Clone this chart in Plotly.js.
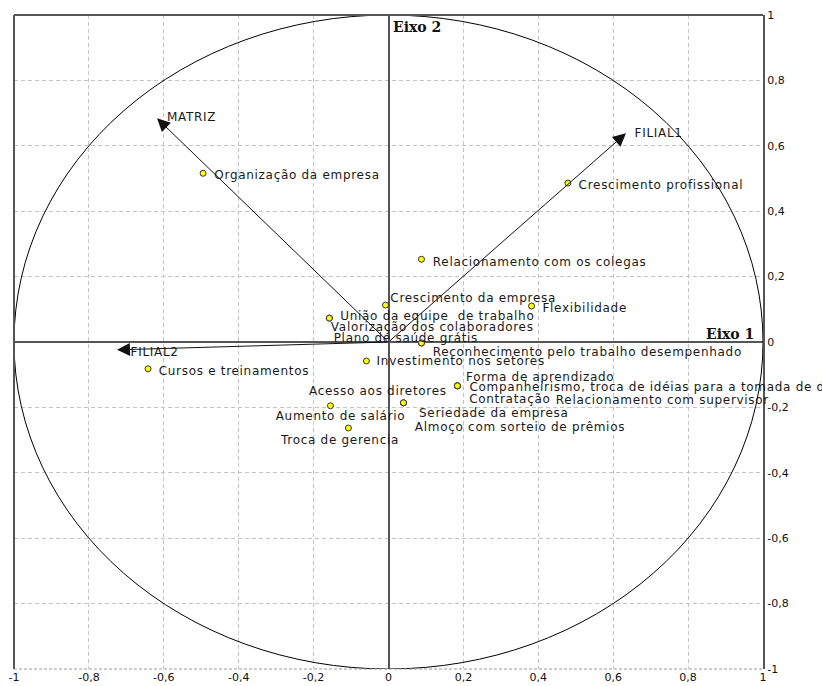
<!DOCTYPE html>
<html>
<head>
<meta charset="utf-8">
<script src="https://cdn.plot.ly/plotly-3.0.1.min.js"></script>
<style>
html,body{margin:0;padding:0;background:#fff;}
#chart{width:822px;height:686px;}
</style>
</head>
<body>
<div id="chart"></div>
<script>
// ---- data ----
const varNames = [
  'Organização da empresa',
  'Crescimento profissional',
  'Relacionamento com os colegas',
  'Crescimento da empresa',
  'Flexibilidade',
  'União da equipe  de trabalho',
  'Valorização dos colaboradores',
  'Plano de saúde grátis',
  'Reconhecimento pelo trabalho desempenhado',
  'Investimento nos setores',
  'Cursos e treinamentos',
  'Forma de aprendizado',
  'Companheirismo, troca de idéias para a tomada de d',
  'Contratação',
  'Relacionamento com supervisor',
  'Acesso aos diretores',
  'Aumento de salário',
  'Seriedade da empresa',
  'Almoço com sorteio de prêmios',
  'Troca de gerencia'
];
const varX = [-0.495, 0.479, 0.088, -0.008, 0.382, -0.158, -0.158, 0.088, 0.088, -0.059, -0.642, 0.184, 0.184, 0.184, 0.184, 0.040, -0.155, 0.040, 0.040, -0.107];
const varY = [0.516, 0.486, 0.253, 0.113, 0.110, 0.073, 0.073, -0.003, -0.003, -0.058, -0.082, -0.134, -0.134, -0.134, -0.134, -0.186, -0.195, -0.186, -0.186, -0.263];

const supNames = ['MATRIZ', 'FILIAL1', 'FILIAL2'];
const supX = [-0.618, 0.634, -0.725];
const supY = [0.684, 0.638, -0.024];

const tickVals = [-1, -0.8, -0.6, -0.4, -0.2, 0, 0.2, 0.4, 0.6, 0.8, 1];
const tickText = ['-1', '-0,8', '-0,6', '-0,4', '-0,2', '0', '0,2', '0,4', '0,6', '0,8', '1'];

const axisNames = ['Eixo 1', 'Eixo 2'];

// ---- label placement (pixel offsets, style only) ----
const labelShift = [
  [9, -2], [9, -2], [9, -3], [3, 7], [9, -2], [9, 2], [0, -9], [-90, 5], [9, -9], [8, 0],
  [9, -2], [7, 9], [10, -1], [10, -13], [96, -14], [-96, 12], [-57, -10], [14, -10], [9, -24], [-70, -12]
];
const supShift = [[8, 1], [7, 0], [12, -2]];
const LS = 0.7; // extra letter spacing (px) applied to labels after drawing

const txtFont = {family: 'DejaVu Sans', size: 12, color: '#1a1a1a'};

// compensate for centred text growing on both sides when letter spacing is added
function comp(s) { return LS * s.length / 2; }

const annotations = [];
varNames.forEach((n, i) => {
  annotations.push({
    x: varX[i], y: varY[i], xref: 'x', yref: 'y', text: n, showarrow: false,
    xanchor: 'left', yanchor: 'middle', xshift: labelShift[i][0] + comp(n), yshift: labelShift[i][1],
    font: txtFont
  });
});
supNames.forEach((n, i) => {
  annotations.push({
    x: supX[i], y: supY[i], xref: 'x', yref: 'y', ax: 0, ay: 0, axref: 'x', ayref: 'y',
    text: '', showarrow: true, arrowhead: 2, arrowsize: 2.6, arrowwidth: 1, arrowcolor: '#111',
    standoff: 0, startstandoff: 0
  });
  annotations.push({
    x: supX[i], y: supY[i], xref: 'x', yref: 'y', text: n, showarrow: false,
    xanchor: 'left', yanchor: 'middle', xshift: supShift[i][0] + comp(n), yshift: supShift[i][1],
    font: txtFont
  });
});
annotations.push({
  x: 1, y: 0, xref: 'x', yref: 'y', text: '<b>' + axisNames[0] + '</b>', showarrow: false,
  xanchor: 'right', yanchor: 'middle', xshift: -7, yshift: 8,
  font: {family: 'DejaVu Serif', size: 14, color: '#111'}
});
annotations.push({
  x: 0, y: 1, xref: 'x', yref: 'y', text: '<b>' + axisNames[1] + '</b>', showarrow: false,
  xanchor: 'left', yanchor: 'middle', xshift: 2, yshift: -12,
  font: {family: 'DejaVu Serif', size: 14, color: '#111'}
});

const shapes = [
  {type: 'circle', xref: 'x', yref: 'y', x0: -1, x1: 1, y0: -1, y1: 1, line: {color: '#000', width: 1}},
  {type: 'line', xref: 'paper', yref: 'paper', x0: 0, x1: 0, y0: 0, y1: 1, line: {color: '#555', width: 2}},
  {type: 'line', xref: 'paper', yref: 'paper', x0: 0, x1: 1, y0: 1, y1: 1, line: {color: '#555', width: 2}},
  {type: 'line', xref: 'paper', yref: 'paper', x0: 0, x1: 1, y0: 0, y1: 0, line: {color: '#999', width: 1, dash: '3px,2px'}}
];

const trace = {
  x: varX, y: varY, text: varNames, type: 'scatter', mode: 'markers',
  marker: {size: 6, color: '#ffff00', line: {color: '#333', width: 1}},
  hoverinfo: 'text', cliponaxis: false
};

const axisCommon = {
  range: [-1, 1], tickvals: tickVals, ticktext: tickText,
  showgrid: true, gridcolor: '#c4c4c4', griddash: '4px,3px', gridwidth: 1,
  zeroline: true, zerolinecolor: '#555', zerolinewidth: 2,
  ticks: '', tickfont: {family: 'DejaVu Sans', size: 11, color: '#111'},
  fixedrange: true, automargin: false
};

const layout = {
  width: 822, height: 686,
  margin: {l: 14, r: 59, t: 15, b: 17},
  paper_bgcolor: '#fff', plot_bgcolor: '#fff',
  showlegend: false,
  xaxis: Object.assign({}, axisCommon, {showline: false}),
  yaxis: Object.assign({}, axisCommon, {side: 'right', showline: true, linecolor: '#555', linewidth: 2}),
  annotations: annotations,
  shapes: shapes
};

Plotly.newPlot('chart', [trace], layout, {displayModeBar: false, staticPlot: true}).then(function () {
  // widen label letter spacing to match the reference's wide bitmap font (skip bold axis names)
  document.querySelectorAll('#chart g.annotation text.annotation-text').forEach(function (t) {
    if (t.textContent.indexOf('Eixo') !== 0) {
      t.style.letterSpacing = LS + 'px';
    }
  });
});
</script>
</body>
</html>
